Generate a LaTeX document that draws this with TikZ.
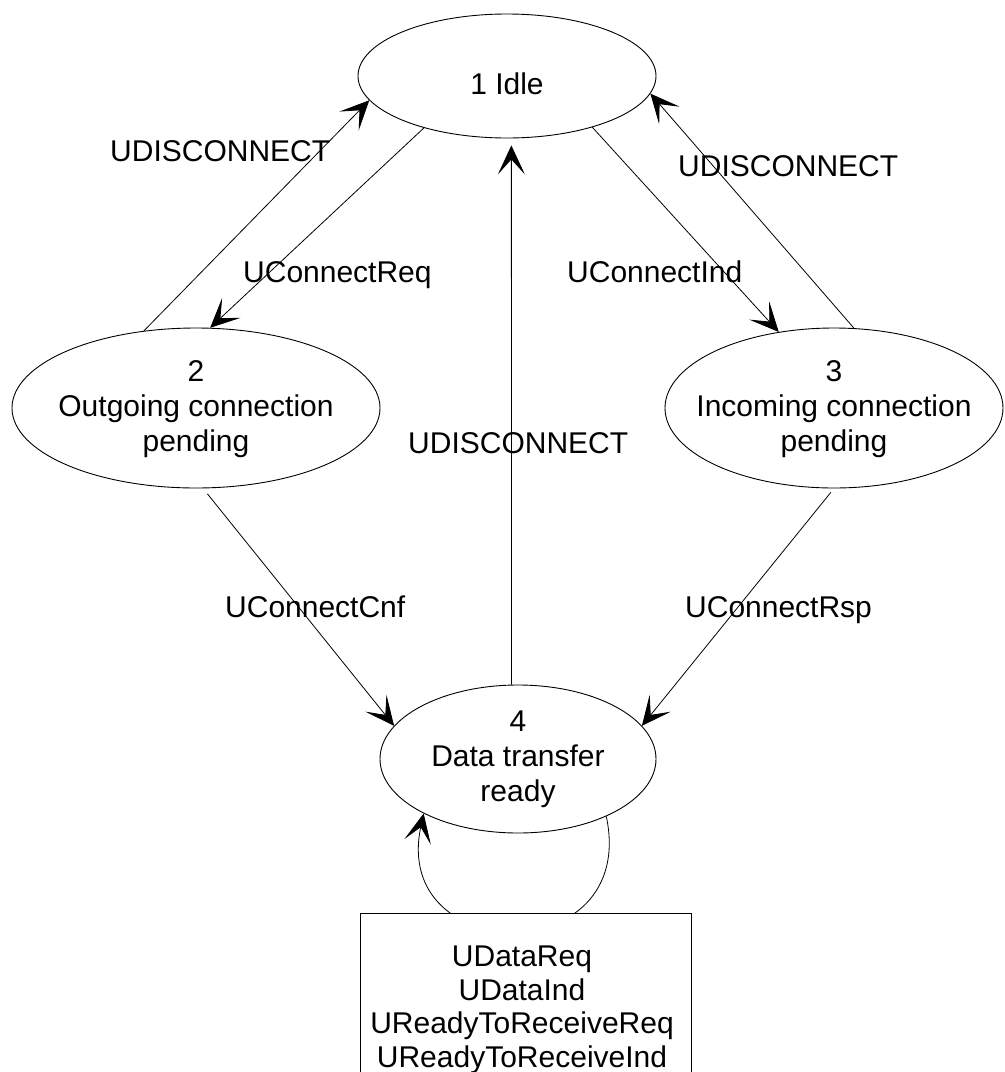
\documentclass[tikz,border=0pt]{standalone}
\usepackage{fontspec}
\setmainfont{Liberation Sans}
\usetikzlibrary{arrows.meta,shapes.geometric}
\begin{document}
\begin{tikzpicture}[x=1pt,y=1pt,
  every node/.style={font=\fontsize{30}{35}\selectfont, inner sep=0pt},
  state/.style={draw, ellipse, line width=0.9pt},
  stext/.style={align=center},
  lbl/.style={anchor=base west},
  arr/.style={-{Stealth[length=29pt,width=27pt,inset=15pt]}, line width=0.8pt},
  actbox/.style={draw, fill=white, line width=0.9pt, anchor=north west,
                 minimum width=331pt, minimum height=200pt}]
\useasboundingbox (0,0) rectangle (1005,-1072);

% states
\node[state, minimum width=298pt, minimum height=124pt] (e1) at (507,-76) {};
\node[stext] (t1) at (507,-84) {1 Idle};
\node[state, minimum width=368pt, minimum height=160pt] (e2) at (196,-408) {};
\node[stext] (t2) at (196,-409) {2\\Outgoing connection\\pending};
\node[state, minimum width=338pt, minimum height=160pt] (e3) at (834,-408) {};
\node[stext] (t3) at (834,-409) {3\\Incoming connection\\pending};
\node[state, minimum width=276pt, minimum height=148pt] (e4) at (518,-759) {};
\node[stext] (t4) at (e4) {4\\Data transfer\\ready};

% transitions
\draw[arr] (e2.124) -- (e1.190);
\draw[arr] (e1.212) -- (e2.80);
\draw[arr] (e1.329) -- (e3.126);
\draw[arr] (e3.76) -- (e1.353);
\draw[arr, shorten >=7pt] (e4.95) -- (e1.274);
\draw[arr, shorten <=7pt] (e2.275) -- (e4.165);
\draw[arr, shorten <=5pt] (e3.270) -- (e4.15);

% self loop on state 4, partly hidden by the action box
\draw[arr] (e4.327) to[out=-78, in=-102, looseness=2.2] (e4.210);
\node[actbox] (box) at (360,-913) {};
\node[align=center, anchor=north, font=\fontsize{30}{33.5}\selectfont] (acts) at (522,-946)
  {UDataReq\\UDataInd\\UReadyToReceiveReq\\UReadyToReceiveInd};

% transition labels
\node[lbl] (l1) at (110,-161) {UDISCONNECT};
\node[lbl] (l2) at (243,-282) {UConnectReq};
\node[lbl] (l3) at (567,-282) {UConnectInd};
\node[lbl] (l4) at (678,-176) {UDISCONNECT};
\node[lbl] (l5) at (408,-453) {UDISCONNECT};
\node[lbl] (l6) at (225,-617) {UConnectCnf};
\node[lbl] (l7) at (685,-617) {UConnectRsp};
\end{tikzpicture}
\end{document}
